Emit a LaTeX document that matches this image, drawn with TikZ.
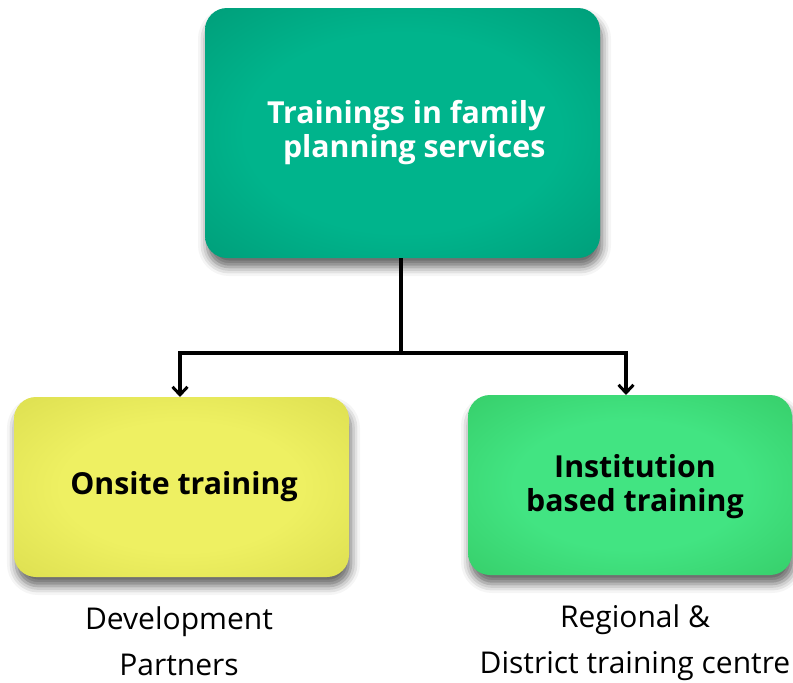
\documentclass[tikz,border=0pt]{standalone}
\usepackage{fontspec}
\setmainfont{Open Sans}
\usetikzlibrary{arrows.meta,shadows.blur}

\definecolor{tealin}{HTML}{00B48C}
\definecolor{tealout}{HTML}{008F6D}
\definecolor{tealrim}{HTML}{00785C}
\definecolor{yelin}{HTML}{EEF062}
\definecolor{yelout}{HTML}{D2D444}
\definecolor{yelrim}{HTML}{BFC232}
\definecolor{grnin}{HTML}{42E482}
\definecolor{grnout}{HTML}{2FC05A}
\definecolor{grnrim}{HTML}{24AA48}

% Glow shadings: flat centre, darkening towards the rim
\pgfdeclareradialshading{tealglow}{\pgfpoint{0bp}{0bp}}{%
  color(0bp)=(tealin); color(20bp)=(tealin); color(47bp)=(tealout); color(70bp)=(tealrim)}
\pgfdeclareradialshading{yelglow}{\pgfpoint{0bp}{0bp}}{%
  color(0bp)=(yelin); color(18bp)=(yelin); color(48bp)=(yelout); color(70bp)=(yelrim)}
\pgfdeclareradialshading{grnglow}{\pgfpoint{0bp}{0bp}}{%
  color(0bp)=(grnin); color(18bp)=(grnin); color(48bp)=(grnout); color(70bp)=(grnrim)}

\begin{document}
\begin{tikzpicture}[x=1pt,y=-1pt,
  boxshadow/.style={blur shadow={shadow xshift=2pt, shadow yshift=-9pt,
      shadow blur radius=9pt, shadow opacity=60}},
  boxtitle/.style={font=\bfseries\fontsize{30.3}{34}\selectfont, align=center},
  caption/.style={font=\fontsize{30}{46}\selectfont, align=center},
  link/.style={line width=3.5pt, draw=black},
  tip/.style={-{Straight Barb[length=8pt,width=15pt,line width=3pt]}}
]
\useasboundingbox (0,0) rectangle (793,683);

% Boxes with a glow shading and a soft drop shadow
\path[boxshadow, shading=tealglow, rounded corners=22pt]
  (205,8) rectangle (600,258);
\coordinate (topS) at (401,258);

\path[boxshadow, shading=yelglow, rounded corners=22pt]
  (14,397) rectangle (349,577);
\coordinate (leftN) at (180,397);

\path[boxshadow, shading=grnglow, rounded corners=22pt]
  (468,395) rectangle (792,575);
\coordinate (rightN) at (626,395);

% Box titles (base anchor sits on the last line)
\node[boxtitle, text=white, align=right, anchor=base east] (ttop) at (549,157)
  {Trainings in family\\planning services};
\node[boxtitle, anchor=base] (tleft) at (184,494) {Onsite training};
\node[boxtitle, anchor=base] (tright) at (635,511) {Institution\\based training};

% Captions under the lower boxes
\node[caption, anchor=base] (cleft) at (179,675) {Development\\Partners};
\node[caption, anchor=base] (cright) at (635,673) {Regional \&\\District training centre};

% Connectors
\coordinate (junc) at (401,353);
\draw[link] (topS) -- (junc);
\draw[link, tip] (junc) -| (leftN);
\draw[link, tip] (junc) -| (rightN);
\end{tikzpicture}
\end{document}
